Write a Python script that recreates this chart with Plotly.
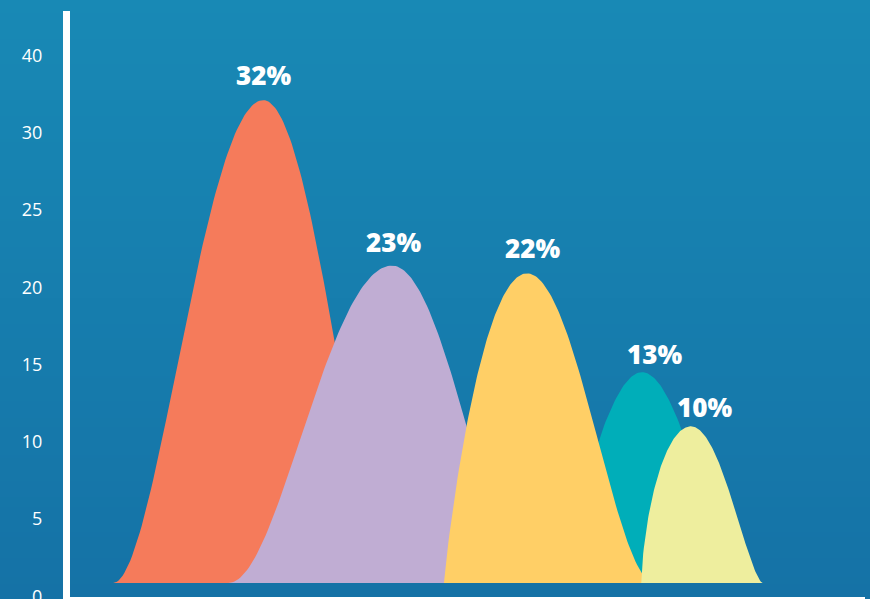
import zlib, struct, base64
import numpy as np
import plotly.graph_objects as go

# ---- data ----
labels = ["32%", "23%", "22%", "13%", "10%"]
peaks = [32.1, 21.4, 20.9, 14.5, 11.0]          # peak heights (y units)
centers = [24.7, 40.8, 57.7, 72.1, 78.2]        # peak positions (x units)
left_widths = [18.8, 20.5, 10.4, 12.9, 6.2]
right_widths = [16.5, 17.5, 16.0, 12.9, 9.0]
left_power = [2.0, 2.1, 0.9, 2.0, 0.65]
right_power = [2.0, 2.1, 2.1, 2.0, 1.6]
baseline = 0.87
series_colors = ["#F57B5B", "#C0ADD3", "#FFCF66", "#00AEB9", "#EEEE9E"]
draw_order = [0, 1, 3, 2, 4]   # teal sits behind yellow
label_xshift = [0, 2, 5, 12, 14]
label_yshift = [25, 24, 25, 18, 19]

tick_vals = [0, 5, 10, 15, 20, 25, 30, 35]
tick_text = ["0", "5", "10", "15", "20", "25", "30", "40"]

W, H = 870, 599
ML, MR, MT, MB = 70, 5, 11, 2


def gradient_png(top, bottom, n=256):
    rows = b""
    for i in range(n):
        t = i / (n - 1)
        c = [round(top[k] + (bottom[k] - top[k]) * t) for k in range(3)]
        rows += b"\x00" + bytes(c)

    def chunk(tag, data):
        return (struct.pack(">I", len(data)) + tag + data +
                struct.pack(">I", zlib.crc32(tag + data) & 0xFFFFFFFF))

    png = (b"\x89PNG\r\n\x1a\n" +
           chunk(b"IHDR", struct.pack(">IIBBBBB", 1, n, 8, 2, 0, 0, 0)) +
           chunk(b"IDAT", zlib.compress(rows)) + chunk(b"IEND", b""))
    return "data:image/png;base64," + base64.b64encode(png).decode()


fig = go.Figure()

for i in draw_order:
    c, pk = centers[i], peaks[i]
    wl, wr = left_widths[i], right_widths[i]
    pl, pr = left_power[i], right_power[i]
    xl = np.linspace(c - wl, c, 80)
    yl = baseline + (pk - baseline) * np.clip(1 - ((xl - c) / wl) ** 2, 0, 1) ** pl
    xr = np.linspace(c, c + wr, 80)[1:]
    yr = baseline + (pk - baseline) * np.clip(1 - ((xr - c) / wr) ** 2, 0, 1) ** pr
    xs = np.concatenate([[c - wl], xl, xr, [c + wr]])
    ys = np.concatenate([[baseline], yl, yr, [baseline]])
    fig.add_trace(go.Scatter(x=xs, y=ys, mode="lines", fill="toself",
                             fillcolor=series_colors[i], line=dict(width=0),
                             hoverinfo="skip", showlegend=False))

for i in range(len(labels)):
    fig.add_annotation(x=centers[i], y=peaks[i], text=labels[i],
                       showarrow=False, xanchor="center", yanchor="middle",
                       xshift=label_xshift[i], yshift=label_yshift[i],
                       font=dict(family="Open Sans", size=26, color="white",
                                 weight=800))

pw = W - ML - MR
ph = H - MT - MB
bg = gradient_png((24, 137, 181), (21, 114, 166))

fig.update_layout(
    width=W, height=H,
    margin=dict(l=ML, r=MR, t=MT, b=MB, pad=0, autoexpand=False),
    paper_bgcolor="#167DAD",
    plot_bgcolor="rgba(0,0,0,0)",
    showlegend=False,
    images=[dict(source=bg, xref="paper", yref="paper",
                 x=-ML / pw, y=1 + MT / ph, sizex=W / pw, sizey=H / ph,
                 xanchor="left", yanchor="top", sizing="stretch",
                 layer="below")],
    xaxis=dict(range=[0.5, 100], showgrid=False, zeroline=False,
               showticklabels=False, ticks="", showline=True,
               linecolor="white", linewidth=2, fixedrange=True,
               automargin=False),
    yaxis=dict(range=[-0.04, 37.87], showgrid=False, zeroline=False,
               tickvals=tick_vals, ticktext=tick_text, ticks="",
               ticklabelstandoff=17, ticklabeloverflow="allow",
               tickfont=dict(family="Open Sans", size=18, color="white",
                             weight=400),
               showline=True, linecolor="white", linewidth=7,
               fixedrange=True, automargin=False),
)

fig.write_html("out.html", config={"displayModeBar": False},
               post_script="document.body.style.margin='0';")
